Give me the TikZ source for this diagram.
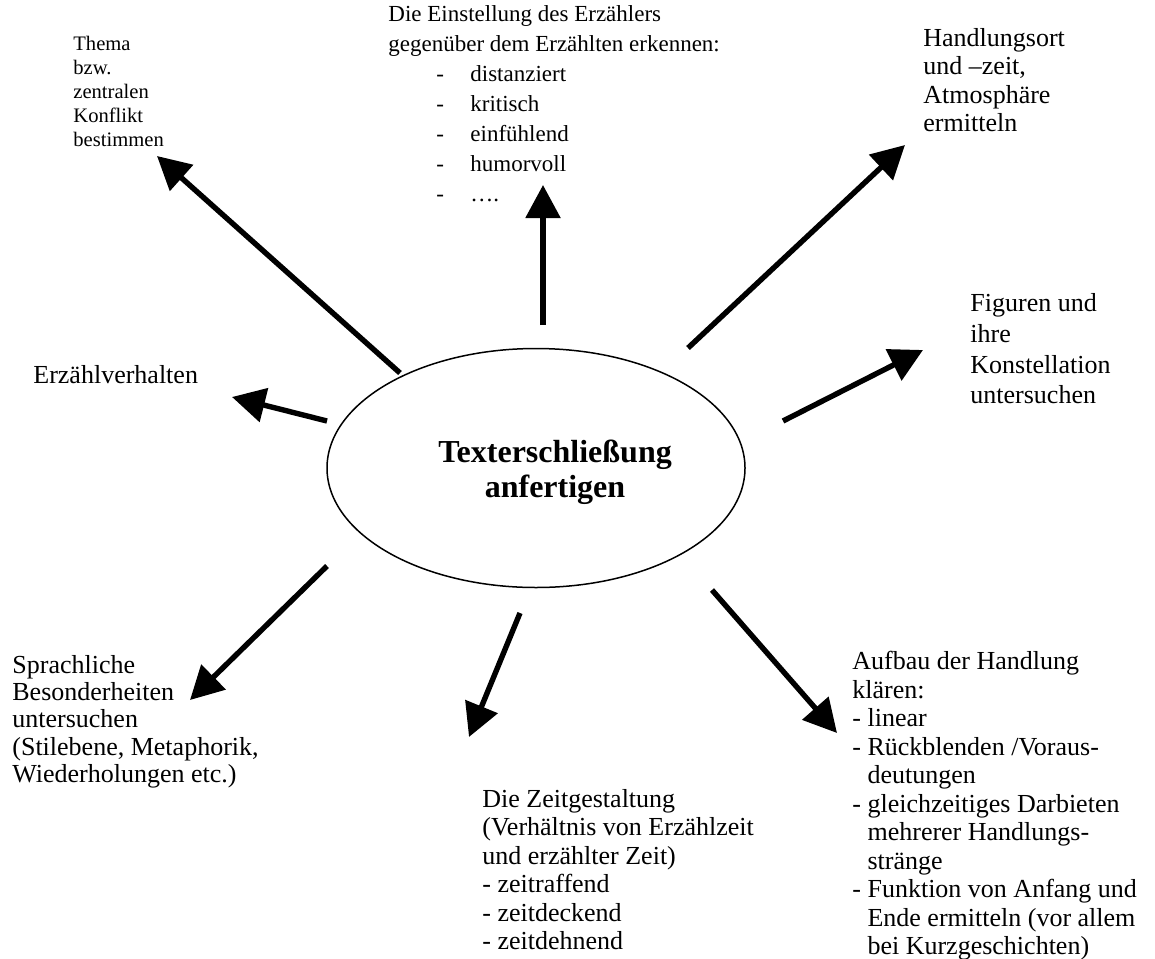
\documentclass[tikz,border=0pt]{standalone}
\usepackage{fontspec}
\setmainfont{Liberation Serif}
\usetikzlibrary{arrows.meta,shapes.geometric}
\tikzset{
  blk/.style={anchor=north west, inner sep=0pt, align=left,
              font=\fontsize{13}{14.25}\selectfont},
  hub/.style={draw, line width=0.75pt, ellipse, inner sep=0pt,
              minimum width=209pt, minimum height=119.5pt},
  pfeil/.style={-{Triangle[length=16.5pt,width=17pt]}, line width=2.7pt}
}
\newcommand{\strich}[1]{\hspace*{24pt}\makebox[17pt][l]{-}#1}
\newcommand{\einr}{\phantom{-~}}
\begin{document}
\begin{tikzpicture}[x=0.5pt, y=-0.5pt]
\useasboundingbox (0,0) rectangle (1155,958);
% centre
\node[hub] (mitte) at (536,468) {};
\node[anchor=north, inner sep=0pt, align=center,
      font=\fontsize{16}{17.5}\selectfont\bfseries] (titel) at (555,440)
  {Texterschließung\\anfertigen};
% surrounding tasks
\node[blk, font=\fontsize{10.3}{12}\selectfont] (thema) at (73,36)
  {Thema\\bzw.\\zentralen\\Konflikt\\bestimmen};
\node[blk, font=\fontsize{11.5}{15}\selectfont] (einst) at (388,5)
  {Die Einstellung des Erzählers\\gegenüber dem Erzählten erkennen:\\
   \strich{distanziert}\\\strich{kritisch}\\\strich{einfühlend}\\
   \strich{humorvoll}\\\strich{….}};
\node[blk] (ort) at (923,28)
  {Handlungsort\\und –zeit,\\Atmosphäre\\ermitteln};
\node[blk, font=\fontsize{13}{15.4}\selectfont] (figuren) at (970,293)
  {Figuren und\\ihre\\Konstellation\\untersuchen};
\node[blk] (erzv) at (33,365) {Erzählverhalten};
\node[blk, font=\fontsize{13}{13.6}\selectfont] (sprache) at (12,655)
  {Sprachliche\\Besonderheiten\\untersuchen\\(Stilebene, Metaphorik,\\Wiederholungen etc.)};
\node[blk] (zeit) at (482,789)
  {Die Zeitgestaltung\\(Verhältnis von Erzählzeit\\und erzählter Zeit)\\
   - zeitraffend\\- zeitdeckend\\- zeitdehnend};
\node[blk] (aufbau) at (852,651)
  {Aufbau der Handlung\\klären:\\- linear\\- Rückblenden /Voraus-\\\einr deutungen\\
   - gleichzeitiges Darbieten\\\einr mehrerer Handlungs-\\\einr stränge\\
   - Funktion von Anfang und\\\einr Ende ermitteln (vor allem\\\einr bei Kurzgeschichten)};
% arrow ends
\coordinate (s-thema) at (400,373);   \coordinate (e-thema) at (157,156);
\coordinate (s-einst) at (543,325);   \coordinate (e-einst) at (543,185);
\coordinate (s-ort) at (688,348);     \coordinate (e-ort) at (905,145);
\coordinate (s-fig) at (783,421);     \coordinate (e-fig) at (923,350);
\coordinate (s-erzv) at (327,421);    \coordinate (e-erzv) at (232,397);
\coordinate (s-sprache) at (327,566); \coordinate (e-sprache) at (190,700);
\coordinate (s-zeit) at (520,613);    \coordinate (e-zeit) at (469,737);
\coordinate (s-aufbau) at (712,590);  \coordinate (e-aufbau) at (837,733);
\draw[pfeil] (s-thema) -- (e-thema);
\draw[pfeil] (s-einst) -- (e-einst);
\draw[pfeil] (s-ort) -- (e-ort);
\draw[pfeil] (s-fig) -- (e-fig);
\draw[pfeil] (s-erzv) -- (e-erzv);
\draw[pfeil] (s-sprache) -- (e-sprache);
\draw[pfeil] (s-zeit) -- (e-zeit);
\draw[pfeil] (s-aufbau) -- (e-aufbau);
\end{tikzpicture}
\end{document}
